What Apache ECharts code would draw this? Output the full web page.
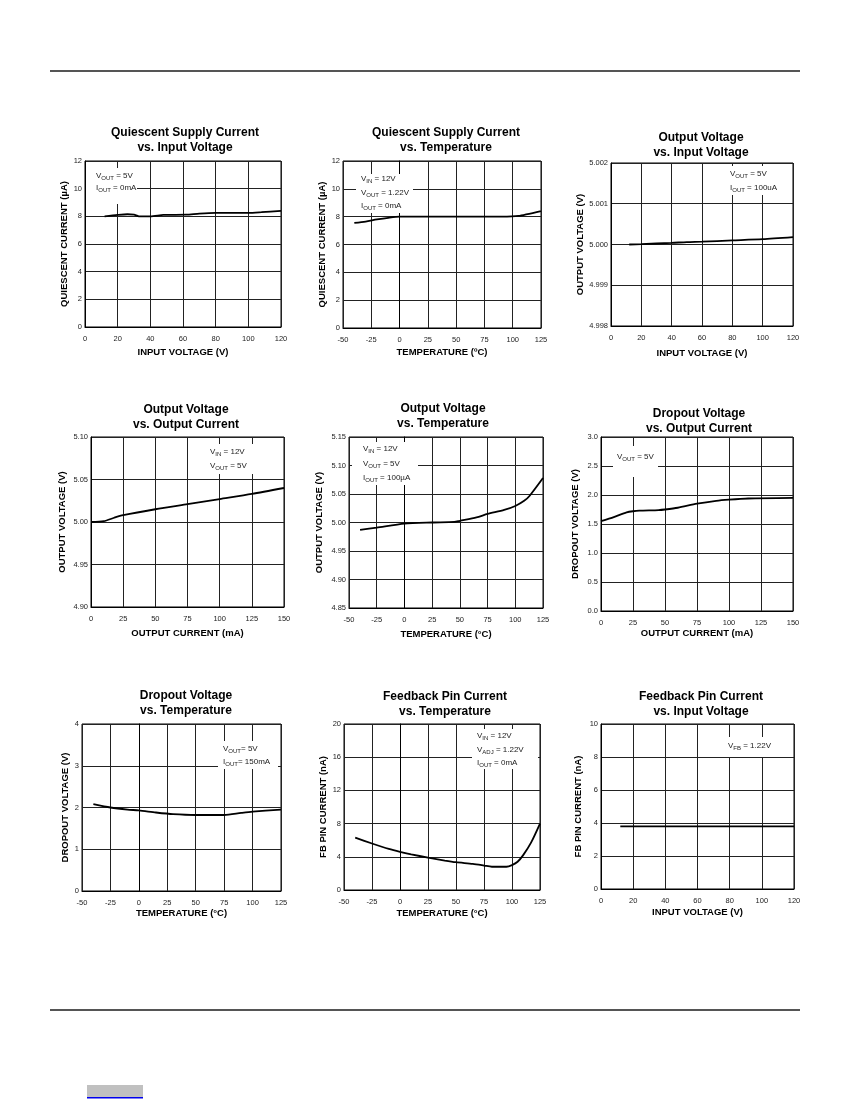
<!DOCTYPE html>
<html>
<head>
<meta charset="utf-8">
<script src="https://cdn.jsdelivr.net/npm/echarts@6/dist/echarts.min.js"></script>
<style>
html, body { margin: 0; padding: 0; background: #fff; }
#main { width: 850px; height: 1100px; }
</style>
</head>
<body>
<div id="main"></div>
<script>
// quiescent supply current vs input voltage
const iqVinX = [12, 20, 26, 30, 33, 40, 48, 62, 70, 80, 100, 108, 120];
const iqVinY = [8.0, 8.1, 8.15, 8.12, 8.0, 8.0, 8.1, 8.12, 8.2, 8.25, 8.25, 8.3, 8.4];

// quiescent supply current vs temperature
const iqTempX = [-40, -30, -20, -10, 0, 25, 50, 75, 90, 105, 125];
const iqTempY = [7.55, 7.65, 7.8, 7.92, 8.0, 8.0, 8.0, 8.0, 8.0, 8.05, 8.4];

// output voltage vs input voltage
const voutVinX = [12, 20, 40, 50, 60, 80, 100, 120];
const voutVinY = [5.0, 5.00001, 5.00004, 5.00006, 5.00007, 5.0001, 5.00013, 5.00018];

// output voltage vs output current
const voutIoutX = [0, 10, 18, 25, 50, 75, 100, 125, 150];
const voutIoutY = [5.0, 5.001, 5.005, 5.008, 5.015, 5.021, 5.027, 5.033, 5.04];

// output voltage vs temperature
const voutTempX = [-40, -25, 0, 25, 45, 50, 65, 75, 90, 100, 108, 113, 125];
const voutTempY = [4.987, 4.991, 4.998, 5.0, 5.001, 5.003, 5.009, 5.015, 5.022, 5.029, 5.038, 5.047, 5.078];

// dropout voltage vs output current
const dropIoutX = [0, 10, 20, 25, 30, 45, 50, 60, 75, 90, 100, 115, 150];
const dropIoutY = [1.55, 1.62, 1.7, 1.72, 1.73, 1.74, 1.75, 1.78, 1.85, 1.9, 1.92, 1.94, 1.95];

// dropout voltage vs temperature
const dropTempX = [-40, -25, -10, 0, 15, 30, 50, 75, 90, 100, 125];
const dropTempY = [2.08, 2.0, 1.95, 1.93, 1.88, 1.84, 1.82, 1.82, 1.87, 1.9, 1.95];

// feedback pin current vs temperature
const fbTempX = [-40, -25, -10, 0, 10, 25, 40, 50, 65, 75, 82, 95, 100, 105, 110, 117, 125];
const fbTempY = [6.3, 5.6, 4.95, 4.6, 4.3, 3.9, 3.55, 3.35, 3.15, 2.95, 2.8, 2.8, 3.0, 3.4, 4.2, 5.7, 8.0];

// feedback pin current vs input voltage
const fbVinX = [12, 60, 120];
const fbVinY = [3.8, 3.8, 3.8];

const titles = [
    ['Quiescent Supply Current', 'vs. Input Voltage'],
    ['Quiescent Supply Current', 'vs. Temperature'],
    ['Output Voltage', 'vs. Input Voltage'],
    ['Output Voltage', 'vs. Output Current'],
    ['Output Voltage', 'vs. Temperature'],
    ['Dropout Voltage', 'vs. Output Current'],
    ['Dropout Voltage', 'vs. Temperature'],
    ['Feedback Pin Current', 'vs. Temperature'],
    ['Feedback Pin Current', 'vs. Input Voltage']
];

// condition notes: [symbol, subscript, rest]
const notes = [
    [['V', 'OUT', ' = 5V'], ['I', 'OUT', ' = 0mA']],
    [['V', 'IN', ' = 12V'], ['V', 'OUT', ' = 1.22V'], ['I', 'OUT', ' = 0mA']],
    [['V', 'OUT', ' = 5V'], ['I', 'OUT', ' = 100uA']],
    [['V', 'IN', ' = 12V'], ['V', 'OUT', ' = 5V']],
    [['V', 'IN', ' = 12V'], ['V', 'OUT', ' = 5V'], ['I', 'OUT', ' = 100µA']],
    [['V', 'OUT', ' = 5V']],
    [['V', 'OUT', '= 5V'], ['I', 'OUT', '= 150mA']],
    [['V', 'IN', ' = 12V'], ['V', 'ADJ', ' = 1.22V'], ['I', 'OUT', ' = 0mA']],
    [['V', 'FB', ' = 1.22V']]
];

const FONT = '"Liberation Sans", Arial, sans-serif';

const panels = [
    { grid: [85, 161, 196, 166], xr: [0, 120, 20], yr: [0, 12, 2], dec: 0, xs: iqVinX, ys: iqVinY,
      xName: 'INPUT VOLTAGE (V)', yName: 'QUIESCENT CURRENT (µA)', xGap: 20, yGap: 15,
      tc: [185, 133], nt: [96, 176, 11.5], box: [86, 168, 51, 36] },
    { grid: [343, 161, 198, 167], xr: [-50, 125, 25], yr: [0, 12, 2], dec: 0, xs: iqTempX, ys: iqTempY,
      xName: 'TEMPERATURE (ºC)', yName: 'QUIESCENT CURRENT (µA)', xGap: 19, yGap: 16,
      tc: [446, 133], nt: [361, 179, 13.5], box: [356, 174, 57, 39] },
    { grid: [611, 163, 182, 163], xr: [0, 120, 20], yr: [4.998, 5.002, 0.001], dec: 3, xs: voutVinX, ys: voutVinY,
      xName: 'INPUT VOLTAGE (V)', yName: 'OUTPUT VOLTAGE (V)', xGap: 22, yGap: 26,
      tc: [701, 138], nt: [730, 174, 14], box: [725, 166, 65, 29] },
    { grid: [91, 437, 193, 170], xr: [0, 150, 25], yr: [4.9, 5.1, 0.05], dec: 2, xs: voutIoutX, ys: voutIoutY,
      xName: 'OUTPUT CURRENT (mA)', yName: 'OUTPUT VOLTAGE (V)', xGap: 21, yGap: 24,
      tc: [186, 410], nt: [210, 452, 14], box: [204, 444, 58, 30] },
    { grid: [349, 437, 194, 171], xr: [-50, 125, 25], yr: [4.85, 5.15, 0.05], dec: 2, xs: voutTempX, ys: voutTempY,
      xName: 'TEMPERATURE (°C)', yName: 'OUTPUT VOLTAGE (V)', xGap: 21, yGap: 25,
      tc: [443, 409], nt: [363, 449, 14.5], box: [352, 442, 66, 43] },
    { grid: [601, 437, 192, 174], xr: [0, 150, 25], yr: [0, 3, 0.5], dec: 1, xs: dropIoutX, ys: dropIoutY,
      xName: 'OUTPUT CURRENT (mA)', yName: 'DROPOUT VOLTAGE (V)', xGap: 17, yGap: 21,
      tc: [699, 414], nt: [617, 457, 14], box: [613, 446, 45, 31] },
    { grid: [82, 724, 199, 167], xr: [-50, 125, 25], yr: [0, 4, 1], dec: 0, xs: dropTempX, ys: dropTempY,
      xName: 'TEMPERATURE (°C)', yName: 'DROPOUT VOLTAGE (V)', xGap: 17, yGap: 12,
      tc: [186, 696], nt: [223, 749, 13], box: [218, 741, 60, 28] },
    { grid: [344, 724, 196, 166], xr: [-50, 125, 25], yr: [0, 20, 4], dec: 0, xs: fbTempX, ys: fbTempY,
      xName: 'TEMPERATURE (°C)', yName: 'FB PIN CURRENT (nA)', xGap: 18, yGap: 16,
      tc: [445, 697], nt: [477, 736, 13.5], box: [472, 729, 66, 40] },
    { grid: [601, 724, 193, 165], xr: [0, 120, 20], yr: [0, 10, 2], dec: 0, xs: fbVinX, ys: fbVinY,
      xName: 'INPUT VOLTAGE (V)', yName: 'FB PIN CURRENT (nA)', xGap: 18, yGap: 18,
      tc: [701, 697], nt: [728, 746, 14], box: [724, 737, 66, 20] }
];

const gridLine = { color: '#222', width: 1 };
const axisBlack = { show: true, lineStyle: { color: '#000', width: 1 } };
const nameStyle = { fontFamily: FONT, fontWeight: 'bold', fontSize: 9.5, color: '#000' };
const noteRich = {
    n: { fontFamily: FONT, fontSize: 8, lineHeight: 11, verticalAlign: 'middle', fill: '#222' },
    s: { fontFamily: FONT, fontSize: 6, lineHeight: 6, verticalAlign: 'bottom', fill: '#222' }
};

let grids = [], xAxes = [], yAxes = [], series = [], graphics = [];

panels.forEach((p, i) => {
    grids.push({
        left: p.grid[0], top: p.grid[1], width: p.grid[2], height: p.grid[3],
        show: true, borderColor: '#000', borderWidth: 1, containLabel: false
    });
    xAxes.push({
        type: 'value', gridIndex: i, min: p.xr[0], max: p.xr[1], interval: p.xr[2],
        name: p.xName, nameLocation: 'middle', nameGap: p.xGap, nameTextStyle: nameStyle,
        axisLine: axisBlack, axisTick: { show: false },
        splitLine: { show: true, lineStyle: gridLine },
        axisLabel: { fontFamily: FONT, fontSize: 7.5, color: '#222', margin: 8 }
    });
    yAxes.push({
        type: 'value', gridIndex: i, min: p.yr[0], max: p.yr[1], interval: p.yr[2],
        name: p.yName, nameLocation: 'middle', nameGap: p.yGap, nameTextStyle: nameStyle,
        axisLine: axisBlack, axisTick: { show: false },
        splitLine: { show: true, lineStyle: gridLine },
        axisLabel: {
            fontFamily: FONT, fontSize: 7.5, color: '#222', margin: 3,
            formatter: v => Number(v).toFixed(p.dec)
        }
    });
    series.push({
        type: 'line', xAxisIndex: i, yAxisIndex: i,
        data: p.xs.map((x, j) => [x, p.ys[j]]),
        showSymbol: false, smooth: 0.25,
        lineStyle: { color: '#000', width: 1.8 }
    });

    // chart title, two lines
    titles[i].forEach((t, k) => {
        graphics.push({
            type: 'text', x: p.tc[0], y: p.tc[1] + k * 15, z: 20,
            style: {
                text: t, fill: '#000', align: 'center', verticalAlign: 'middle',
                font: 'bold 12px ' + FONT
            }
        });
    });

    // white box behind the test conditions
    graphics.push({
        type: 'rect', z: 15,
        shape: { x: p.box[0], y: p.box[1], width: p.box[2], height: p.box[3] },
        style: { fill: '#fff' }
    });
    notes[i].forEach((n, k) => {
        graphics.push({
            type: 'text', x: p.nt[0], y: p.nt[1] + k * p.nt[2], z: 20,
            style: {
                text: '{n|' + n[0] + '}{s|' + n[1] + '}{n|' + n[2] + '}',
                rich: noteRich, align: 'left', verticalAlign: 'middle'
            }
        });
    });
});

// page rules and footer mark
graphics.push(
    { type: 'line', z: 20, shape: { x1: 50, y1: 71, x2: 800, y2: 71 }, style: { stroke: '#555', lineWidth: 2 } },
    { type: 'line', z: 20, shape: { x1: 50, y1: 1010, x2: 800, y2: 1010 }, style: { stroke: '#555', lineWidth: 2 } },
    { type: 'rect', z: 20, shape: { x: 87, y: 1085, width: 56, height: 12 }, style: { fill: '#c0c0c0' } },
    { type: 'rect', z: 21, shape: { x: 87, y: 1097, width: 56, height: 1.5 }, style: { fill: '#0000ee' } }
);

const chart = echarts.init(document.getElementById('main'));
chart.setOption({
    backgroundColor: '#fff',
    animation: false,
    grid: grids,
    xAxis: xAxes,
    yAxis: yAxes,
    series: series,
    graphic: graphics
});
</script>
</body>
</html>
